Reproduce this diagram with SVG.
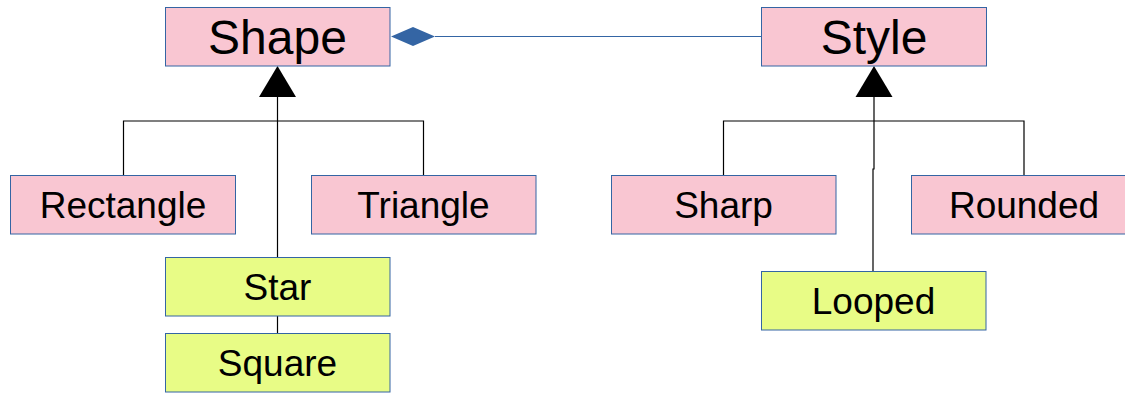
<svg xmlns="http://www.w3.org/2000/svg" width="1125" height="393" viewBox="0 0 1125 393">
<style>
.box{stroke:#3465a4;stroke-width:1}
.pink{fill:#f9c6d2}
.yel{fill:#e8fc86}
.big{font-family:"Liberation Sans",Arial,sans-serif;font-size:48px;fill:#000;text-anchor:middle}
.lbl{font-family:"Liberation Sans",Arial,sans-serif;font-size:37px;fill:#000;text-anchor:middle}
.ln{fill:none;stroke:#000;stroke-width:1.2}
</style>
<rect width="1125" height="393" fill="#fff"/>
<g id="connectors">
<path class="ln" d="M277.5 97 V257"/>
<path class="ln" d="M123.5 175 V121 H423.5 V175"/>
<path class="ln" d="M277.5 316 V333"/>
<path class="ln" d="M874 97 V169 H873 V271"/>
<path class="ln" d="M723.5 175 V121 H1024 V175"/>
<polygon points="277.5,66 259,97 296,97" fill="#000"/>
<polygon points="874,66 855.5,97 892.5,97" fill="#000"/>
<path d="M435 36.5 H761" stroke="#3465a4" stroke-width="1.2" fill="none"/>
<polygon points="391,36.5 413,27 435,36.5 413,46" fill="#3465a4"/>
</g>
<g id="shape"><rect class="box pink" x="165.5" y="7.5" width="224.5" height="58.5"/><text class="big" x="277.5" y="53.5">Shape</text></g>
<g id="style"><rect class="box pink" x="761.5" y="7.5" width="225" height="58.5"/><text class="big" x="874" y="53.5">Style</text></g>
<g id="rectangle"><rect class="box pink" x="10.5" y="175.5" width="225" height="58.5"/><text class="lbl" x="123" y="217.5">Rectangle</text></g>
<g id="triangle"><rect class="box pink" x="311.5" y="175.5" width="224.5" height="58.5"/><text class="lbl" x="423.5" y="217.5">Triangle</text></g>
<g id="star"><rect class="box yel" x="165.5" y="257.5" width="224.5" height="58.5"/><text class="lbl" x="277.5" y="299.5">Star</text></g>
<g id="square"><rect class="box yel" x="165.5" y="333.5" width="224.5" height="58.5"/><text class="lbl" x="277.5" y="375.5">Square</text></g>
<g id="sharp"><rect class="box pink" x="611.5" y="175.5" width="224.5" height="58.5"/><text class="lbl" x="723.5" y="217.5">Sharp</text></g>
<g id="rounded"><rect class="box pink" x="911.5" y="175.5" width="225" height="58.5"/><text class="lbl" x="1024" y="217.5">Rounded</text></g>
<g id="looped"><rect class="box yel" x="761.5" y="271.5" width="224.5" height="58.5"/><text class="lbl" x="873.5" y="313.5">Looped</text></g>
</svg>
